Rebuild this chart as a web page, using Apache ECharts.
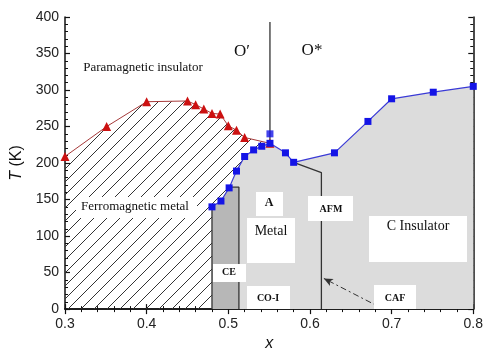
<!DOCTYPE html>
<html>
<head>
<meta charset="utf-8">
<script src="https://cdn.jsdelivr.net/npm/echarts@6/dist/echarts.min.js"></script>
<style>
  html, body { margin: 0; padding: 0; background: #fff; }
  #chart { width: 486px; height: 357px; }
</style>
</head>
<body>
<div id="chart"></div>
<script>
// x, T(K)
const redPoints = [
  [0.30, 209], [0.351, 250], [0.40, 284], [0.45, 285], [0.46, 280],
  [0.47, 274], [0.48, 268], [0.49, 267], [0.50, 251], [0.51, 245],
  [0.52, 235], [0.551, 227]
];
const bluePoints = [
  [0.48, 140], [0.491, 148], [0.501, 166], [0.51, 189], [0.52, 209],
  [0.531, 218], [0.541, 223], [0.551, 227], [0.57, 214], [0.58, 201],
  [0.63, 214], [0.671, 257], [0.70, 288], [0.751, 297], [0.80, 305]
];
const blueExtra = [[0.551, 240]];
const ceShape = [[0.48, 0], [0.48, 140], [0.491, 148], [0.501, 166], [0.513, 167], [0.513, 0]];
const ceEdgeLeft = [[0.48, 0], [0.48, 140]];
const ceEdgeRight = [[0.501, 167], [0.513, 167], [0.513, 0]];
const oLine = [[0.551, 227], [0.551, 393]];
const afmLine = [[0.58, 201], [0.614, 187], [0.614, 0]];
const cafArrow = [[0.69, 0], [0.617, 42]];

const chart = echarts.init(document.getElementById('chart'));

function makeHatch() {
  const s = 13;
  const c = document.createElement('canvas');
  c.width = s; c.height = s;
  const ctx = c.getContext('2d');
  ctx.strokeStyle = '#333';
  ctx.lineWidth = 1;
  ctx.beginPath();
  ctx.moveTo(-1, s + 1); ctx.lineTo(s + 1, -1);
  ctx.moveTo(-s / 2, s / 2); ctx.lineTo(s / 2, -s / 2);
  ctx.moveTo(s / 2, s * 1.5); ctx.lineTo(s * 1.5, s / 2);
  ctx.stroke();
  return c;
}

const serif = '"Liberation Serif", "DejaVu Serif", serif';
const sans = '"Liberation Sans", Arial, sans-serif';

function box(x0, y0, x1, y1) {
  return { type: 'rect', shape: { x: x0, y: y0, width: x1 - x0, height: y1 - y0 },
           style: { fill: '#fff' }, z: 50 };
}
function txt(x, y, t, size, font, weight) {
  return { type: 'text', x: x, y: y, z: 51,
           style: { text: t, fill: '#111', font: (weight || 'normal') + ' ' + size + 'px ' + font,
                    align: 'center', verticalAlign: 'middle' } };
}

const axisCommon = {
  type: 'value',
  axisLine: { lineStyle: { color: '#111', width: 1.5 } },
  axisTick: { inside: true, length: 5, lineStyle: { color: '#111', width: 1.2 } },
  minorTick: { show: true, splitNumber: 5, length: 3, lineStyle: { color: '#111', width: 1 } },
  splitLine: { show: false },
  minorSplitLine: { show: false }
};

chart.setOption({
  animation: false,
  backgroundColor: '#fff',
  grid: { left: 65, right: 9, top: 17, bottom: 34 },
  xAxis: [
    Object.assign({}, axisCommon, {
      min: 0.3, max: 0.8, interval: 0.1, position: 'bottom',
      axisLabel: { color: '#222', fontSize: 14, fontFamily: sans, margin: 8 },
      name: 'x', nameLocation: 'middle', nameGap: 21,
      nameTextStyle: { fontSize: 16, fontStyle: 'italic', fontFamily: sans, color: '#111' }
    }),
    Object.assign({}, axisCommon, {
      min: 0.3, max: 0.8, interval: 0.1, position: 'top',
      axisLabel: { show: false }
    })
  ],
  yAxis: [
    Object.assign({}, axisCommon, {
      min: 0, max: 400, interval: 50, position: 'left',
      axisLabel: { color: '#222', fontSize: 14, fontFamily: sans, margin: 6 },
      name: '{i|T} (K)', nameLocation: 'middle', nameGap: 35,
      nameTextStyle: {
        fontSize: 16, fontFamily: sans, color: '#111',
        rich: { i: { fontStyle: 'italic', fontSize: 16, fontFamily: sans, color: '#111' } }
      }
    }),
    Object.assign({}, axisCommon, {
      min: 0, max: 400, interval: 50, position: 'right',
      axisLabel: { show: false }
    })
  ],
  series: [
    {
      name: 'hatch', type: 'line', data: redPoints, showSymbol: false, silent: true,
      lineStyle: { width: 0 }, areaStyle: { color: { image: makeHatch(), repeat: 'repeat' }, opacity: 1 },
      z: 1
    },
    {
      name: 'insulatorArea', type: 'line', data: bluePoints, showSymbol: false, silent: true,
      lineStyle: { width: 0 }, areaStyle: { color: '#dcdcdc', opacity: 1 }, z: 2
    },
    {
      name: 'CE', type: 'custom', data: [0], z: 3, silent: true,
      renderItem: function (params, api) {
        return {
          type: 'polygon',
          shape: { points: ceShape.map(p => api.coord(p)) },
          style: { fill: '#b7b7b7' }
        };
      }
    },
    {
      type: 'line', data: ceEdgeLeft, showSymbol: false, z: 4,
      lineStyle: { color: '#333', width: 1.3 }
    },
    {
      type: 'line', data: ceEdgeRight, showSymbol: false, z: 4,
      lineStyle: { color: '#333', width: 1.3 }
    },
    {
      type: 'line', data: oLine, showSymbol: false, z: 4,
      lineStyle: { color: '#333', width: 1.3 }
    },
    {
      type: 'line', data: afmLine, showSymbol: false, z: 4,
      lineStyle: { color: '#333', width: 1.3 },
      markLine: {
        silent: true, symbol: ['none', 'arrow'], symbolSize: [6, 9],
        label: { show: false },
        lineStyle: { color: '#333', width: 1, type: [6, 3, 2, 3] },
        data: [[{ coord: cafArrow[0] }, { coord: cafArrow[1] }]]
      }
    },
    {
      name: 'red', type: 'line', data: redPoints, z: 5,
      symbol: 'triangle', symbolSize: 9,
      itemStyle: { color: '#cc1111' },
      lineStyle: { color: '#a63a3a', width: 1 }
    },
    {
      name: 'blue', type: 'line', data: bluePoints, z: 6,
      symbol: 'rect', symbolSize: 7,
      itemStyle: { color: '#1414e6' },
      lineStyle: { color: '#3a3ad6', width: 1.2 }
    },
    {
      type: 'scatter', data: blueExtra, z: 6,
      symbol: 'rect', symbolSize: 7, itemStyle: { color: '#1414e6' }
    }
  ],
  graphic: [
    txt(143, 68, 'Paramagnetic insulator', 13, serif),
    txt(242, 52, 'O\u2032', 17, serif),
    txt(312, 51, 'O*', 17, serif),
    box(76, 197, 197, 218),
    txt(135, 207, 'Ferromagnetic metal', 13, serif),
    box(256, 192, 283, 216),
    txt(269, 203, 'A', 12, serif, 'bold'),
    box(247, 218, 295, 263),
    txt(271, 231, 'Metal', 14, serif),
    box(213, 264, 246, 282),
    txt(229, 272, 'CE', 10, serif, 'bold'),
    box(247, 286, 290, 309),
    txt(268, 298, 'CO-I', 10, serif, 'bold'),
    box(308, 196, 353, 221),
    txt(331, 209, 'AFM', 10, serif, 'bold'),
    box(369, 216, 467, 262),
    txt(418, 226, 'C Insulator', 14, serif),
    box(374, 285, 416, 309),
    txt(395, 298, 'CAF', 10, serif, 'bold')
  ]
});
</script>
</body>
</html>
